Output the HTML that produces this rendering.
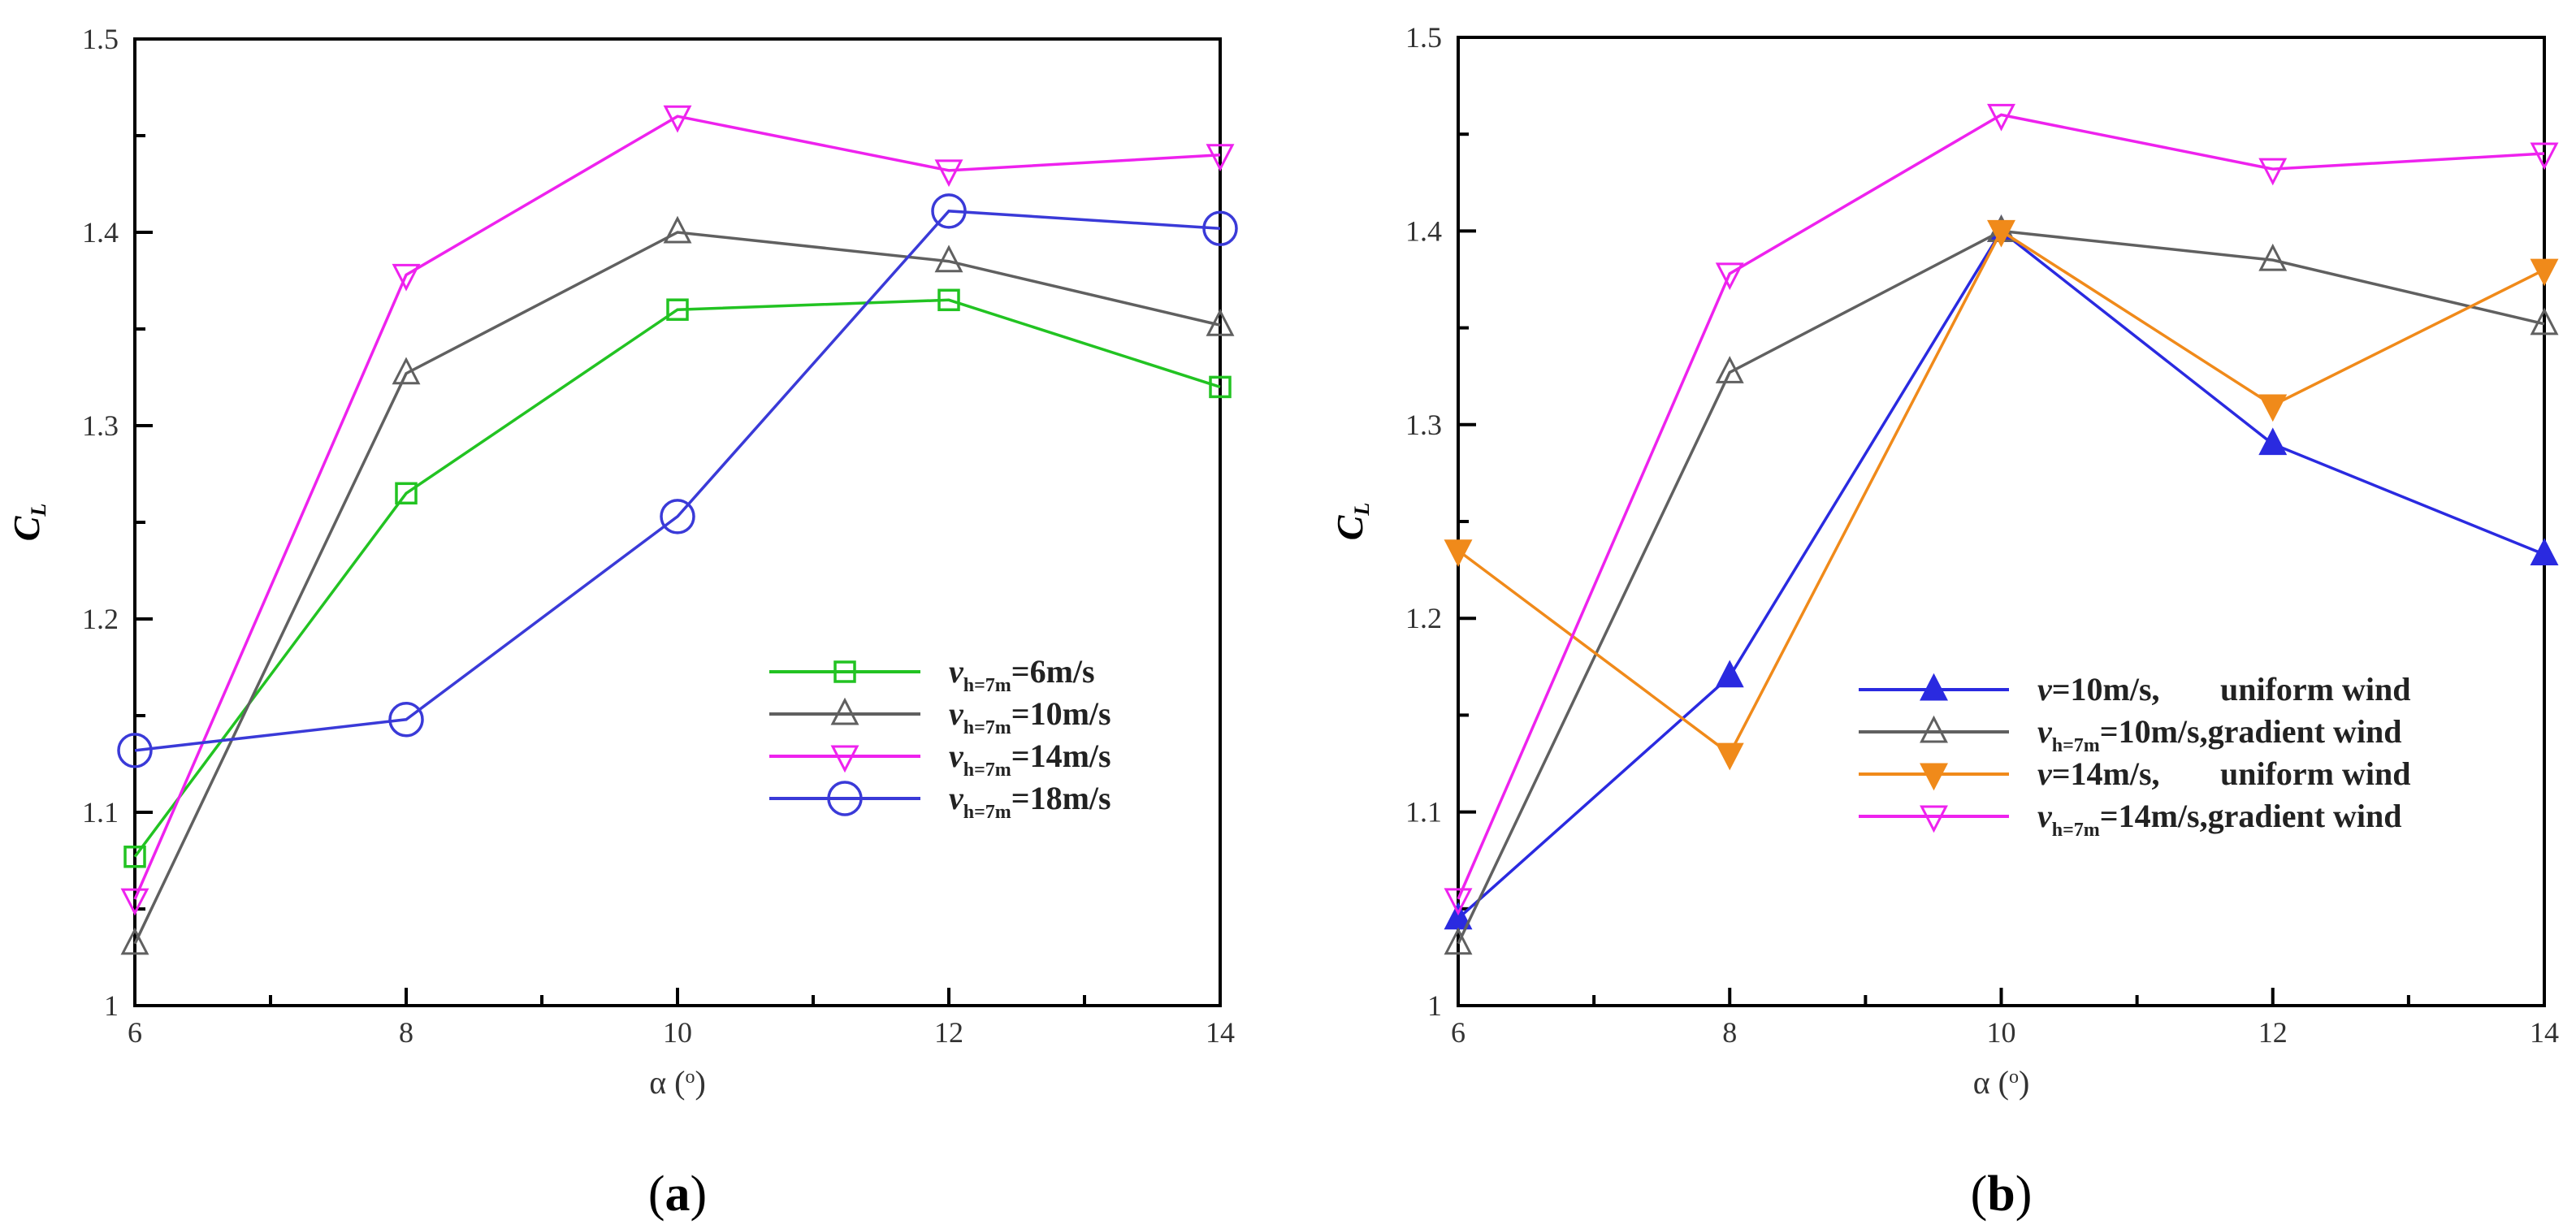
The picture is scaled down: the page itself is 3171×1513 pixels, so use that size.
<!DOCTYPE html>
<html><head><meta charset="utf-8"><style>
html,body{margin:0;padding:0;background:#fff;}
svg{display:block;font-family:"Liberation Serif",serif;}
</style></head><body>
<svg id="fig" width="3171" height="1513" viewBox="0 0 3171 1513" xmlns="http://www.w3.org/2000/svg"></svg>
<script>
const alphaValues = [6, 8, 10, 12, 14];
const yTickLabels = ["1", "1.1", "1.2", "1.3", "1.4", "1.5"];
const xTickLabels = ["6", "8", "10", "12", "14"];
const a_v6 = [1.077, 1.265, 1.360, 1.365, 1.320];
const a_v10 = [1.032, 1.327, 1.400, 1.385, 1.352];
const a_v14 = [1.055, 1.378, 1.460, 1.432, 1.440];
const a_v18 = [1.132, 1.148, 1.253, 1.411, 1.402];
const b_u10 = [1.045, 1.170, 1.400, 1.290, 1.233];
const b_g10 = [1.032, 1.327, 1.400, 1.385, 1.352];
const b_u14 = [1.235, 1.130, 1.400, 1.310, 1.380];
const b_g14 = [1.055, 1.378, 1.460, 1.432, 1.440];

const NS = "http://www.w3.org/2000/svg";
const svg = document.getElementById('fig');
function mk(tag, attrs, parent) {
  const e = document.createElementNS(NS, tag);
  for (const k in attrs) e.setAttribute(k, attrs[k]);
  (parent || svg).appendChild(e);
  return e;
}
function marker(g, type, cx, cy, color) {
  let m;
  if (type === 'square') m = mk('rect', {x: cx-12, y: cy-12, width: 24, height: 24, fill: 'none', stroke: color, 'stroke-width': 3.5}, g);
  else if (type === 'circle') m = mk('circle', {cx: cx, cy: cy, r: 20, fill: 'none', stroke: color, 'stroke-width': 3.5}, g);
  else if (type === 'up' || type === 'upf') m = mk('polygon', {points: `${cx},${cy-17} ${cx-15},${cy+12} ${cx+15},${cy+12}`, fill: type==='upf'?color:'none', stroke: color, 'stroke-width': 3}, g);
  else m = mk('polygon', {points: `${cx},${cy+17} ${cx-15},${cy-12} ${cx+15},${cy-12}`, fill: type==='downf'?color:'none', stroke: color, 'stroke-width': 3}, g);
  
  
}
function panel(id, x0, x1, yTop, yBot, series, legend, label) {
  const g = mk('g', {});
  
  
  const xs = a => x0 + (a - 6) / 8 * (x1 - x0);
  const ys = v => yBot - (v - 1.0) / 0.5 * (yBot - yTop);
  for (let i = 0; i <= 10; i++) {
    const v = 1 + i * 0.05, y = ys(v), len = i % 2 === 0 ? 22 : 13;
    const t = mk('line', {x1: x0, x2: x0 + len, y1: y, y2: y, stroke: '#000', 'stroke-width': 4}, g);
    
    
  }
  yTickLabels.forEach((lab, i) => {
    const t = mk('text', {x: x0 - 20, y: ys(1 + i * 0.1) + 12, 'font-size': 36, 'text-anchor': 'end', fill: '#333'}, g);
    t.textContent = lab;
    
    
  });
  for (let a = 6; a <= 14; a++) {
    const x = xs(a), len = a % 2 === 0 ? 22 : 13;
    const t = mk('line', {x1: x, x2: x, y1: yBot, y2: yBot - len, stroke: '#000', 'stroke-width': 4}, g);
    
    
  }
  xTickLabels.forEach((lab, i) => {
    const t = mk('text', {x: xs(alphaValues[i]), y: yBot + 45, 'font-size': 36, 'text-anchor': 'middle', fill: '#333'}, g);
    t.textContent = lab;
    
    
  });
  const fr = mk('rect', {x: x0, y: yTop, width: x1 - x0, height: yBot - yTop, fill: 'none', stroke: '#000', 'stroke-width': 4}, g);
  
  
  series.forEach(s => {
    const sg = mk('g', {}, g);
    
    
    const pts = s.data.map((v, i) => `${xs(alphaValues[i])},${ys(v)}`).join(' ');
    const pl = mk('polyline', {points: pts, fill: 'none', stroke: s.color, 'stroke-width': 3.5}, sg);
    
    
    s.data.forEach((v, i) => marker(sg, s.marker, xs(alphaValues[i]), ys(v), s.color));
  });
  const lg = mk('g', {}, g);
  
  
  series.forEach((s, i) => {
    const y = legend.y + i * legend.dy;
    const eg = mk('g', {}, lg);
    
    
    mk('line', {x1: legend.x0, x2: legend.x1, y1: y, y2: y, stroke: s.color, 'stroke-width': 4}, eg);
    marker(eg, s.marker, (legend.x0 + legend.x1) / 2, y, s.color);
    const t = mk('text', {x: legend.tx, y: y + 13, 'font-size': 40, 'font-weight': 'bold', fill: '#222'}, eg);
    t.innerHTML = s.label;
  });
  const xl = mk('text', {x: (x0 + x1) / 2, y: yBot + 108, 'font-size': 40, 'text-anchor': 'middle', fill: '#333'}, g);
  xl.innerHTML = 'α (<tspan baseline-shift="super" font-size="24">o</tspan>)';
  
  
  const yl = mk('text', {transform: `translate(${x0 - 118},${(yTop + yBot) / 2}) rotate(-90)`, 'font-size': 46, 'font-weight': 'bold', 'font-style': 'italic', 'text-anchor': 'middle', fill: '#000'}, g);
  yl.innerHTML = 'C<tspan font-size="26" dy="8">L</tspan>';
  
  
  const pl = mk('text', {x: (x0 + x1) / 2, y: 1490, 'font-size': 62, 'text-anchor': 'middle', fill: '#000'}, g);
  pl.innerHTML = '(<tspan font-weight="bold">' + label + '</tspan>)';
  
  
}
const sub = '<tspan font-style="italic">v</tspan><tspan font-size="24" dy="11">h=7m</tspan><tspan dy="-11">';
panel('a', 166, 1502, 48, 1238, [
  {name: 'v6', data: a_v6, color: '#22c322', marker: 'square', label: sub + '=6m/s</tspan>'},
  {name: 'v10', data: a_v10, color: '#606060', marker: 'up', label: sub + '=10m/s</tspan>'},
  {name: 'v14', data: a_v14, color: '#ee22ee', marker: 'down', label: sub + '=14m/s</tspan>'},
  {name: 'v18', data: a_v18, color: '#3a3ad8', marker: 'circle', label: sub + '=18m/s</tspan>'}
], {x0: 947, x1: 1133, tx: 1168, y: 827, dy: 52}, 'a');
panel('b', 1795, 3132, 46, 1238, [
  {name: 'uniform-10', data: b_u10, color: '#2a2ae0', marker: 'upf', label: '<tspan font-style="italic">v</tspan>=10m/s,<tspan x="2733">uniform wind</tspan>'},
  {name: 'gradient-10', data: b_g10, color: '#606060', marker: 'up', label: sub + '=10m/s,gradient wind</tspan>'},
  {name: 'uniform-14', data: b_u14, color: '#f08a1a', marker: 'downf', label: '<tspan font-style="italic">v</tspan>=14m/s,<tspan x="2733">uniform wind</tspan>'},
  {name: 'gradient-14', data: b_g14, color: '#ee22ee', marker: 'down', label: sub + '=14m/s,gradient wind</tspan>'}
], {x0: 2288, x1: 2473, tx: 2508, y: 849, dy: 52}, 'b');
</script>
</body></html>
